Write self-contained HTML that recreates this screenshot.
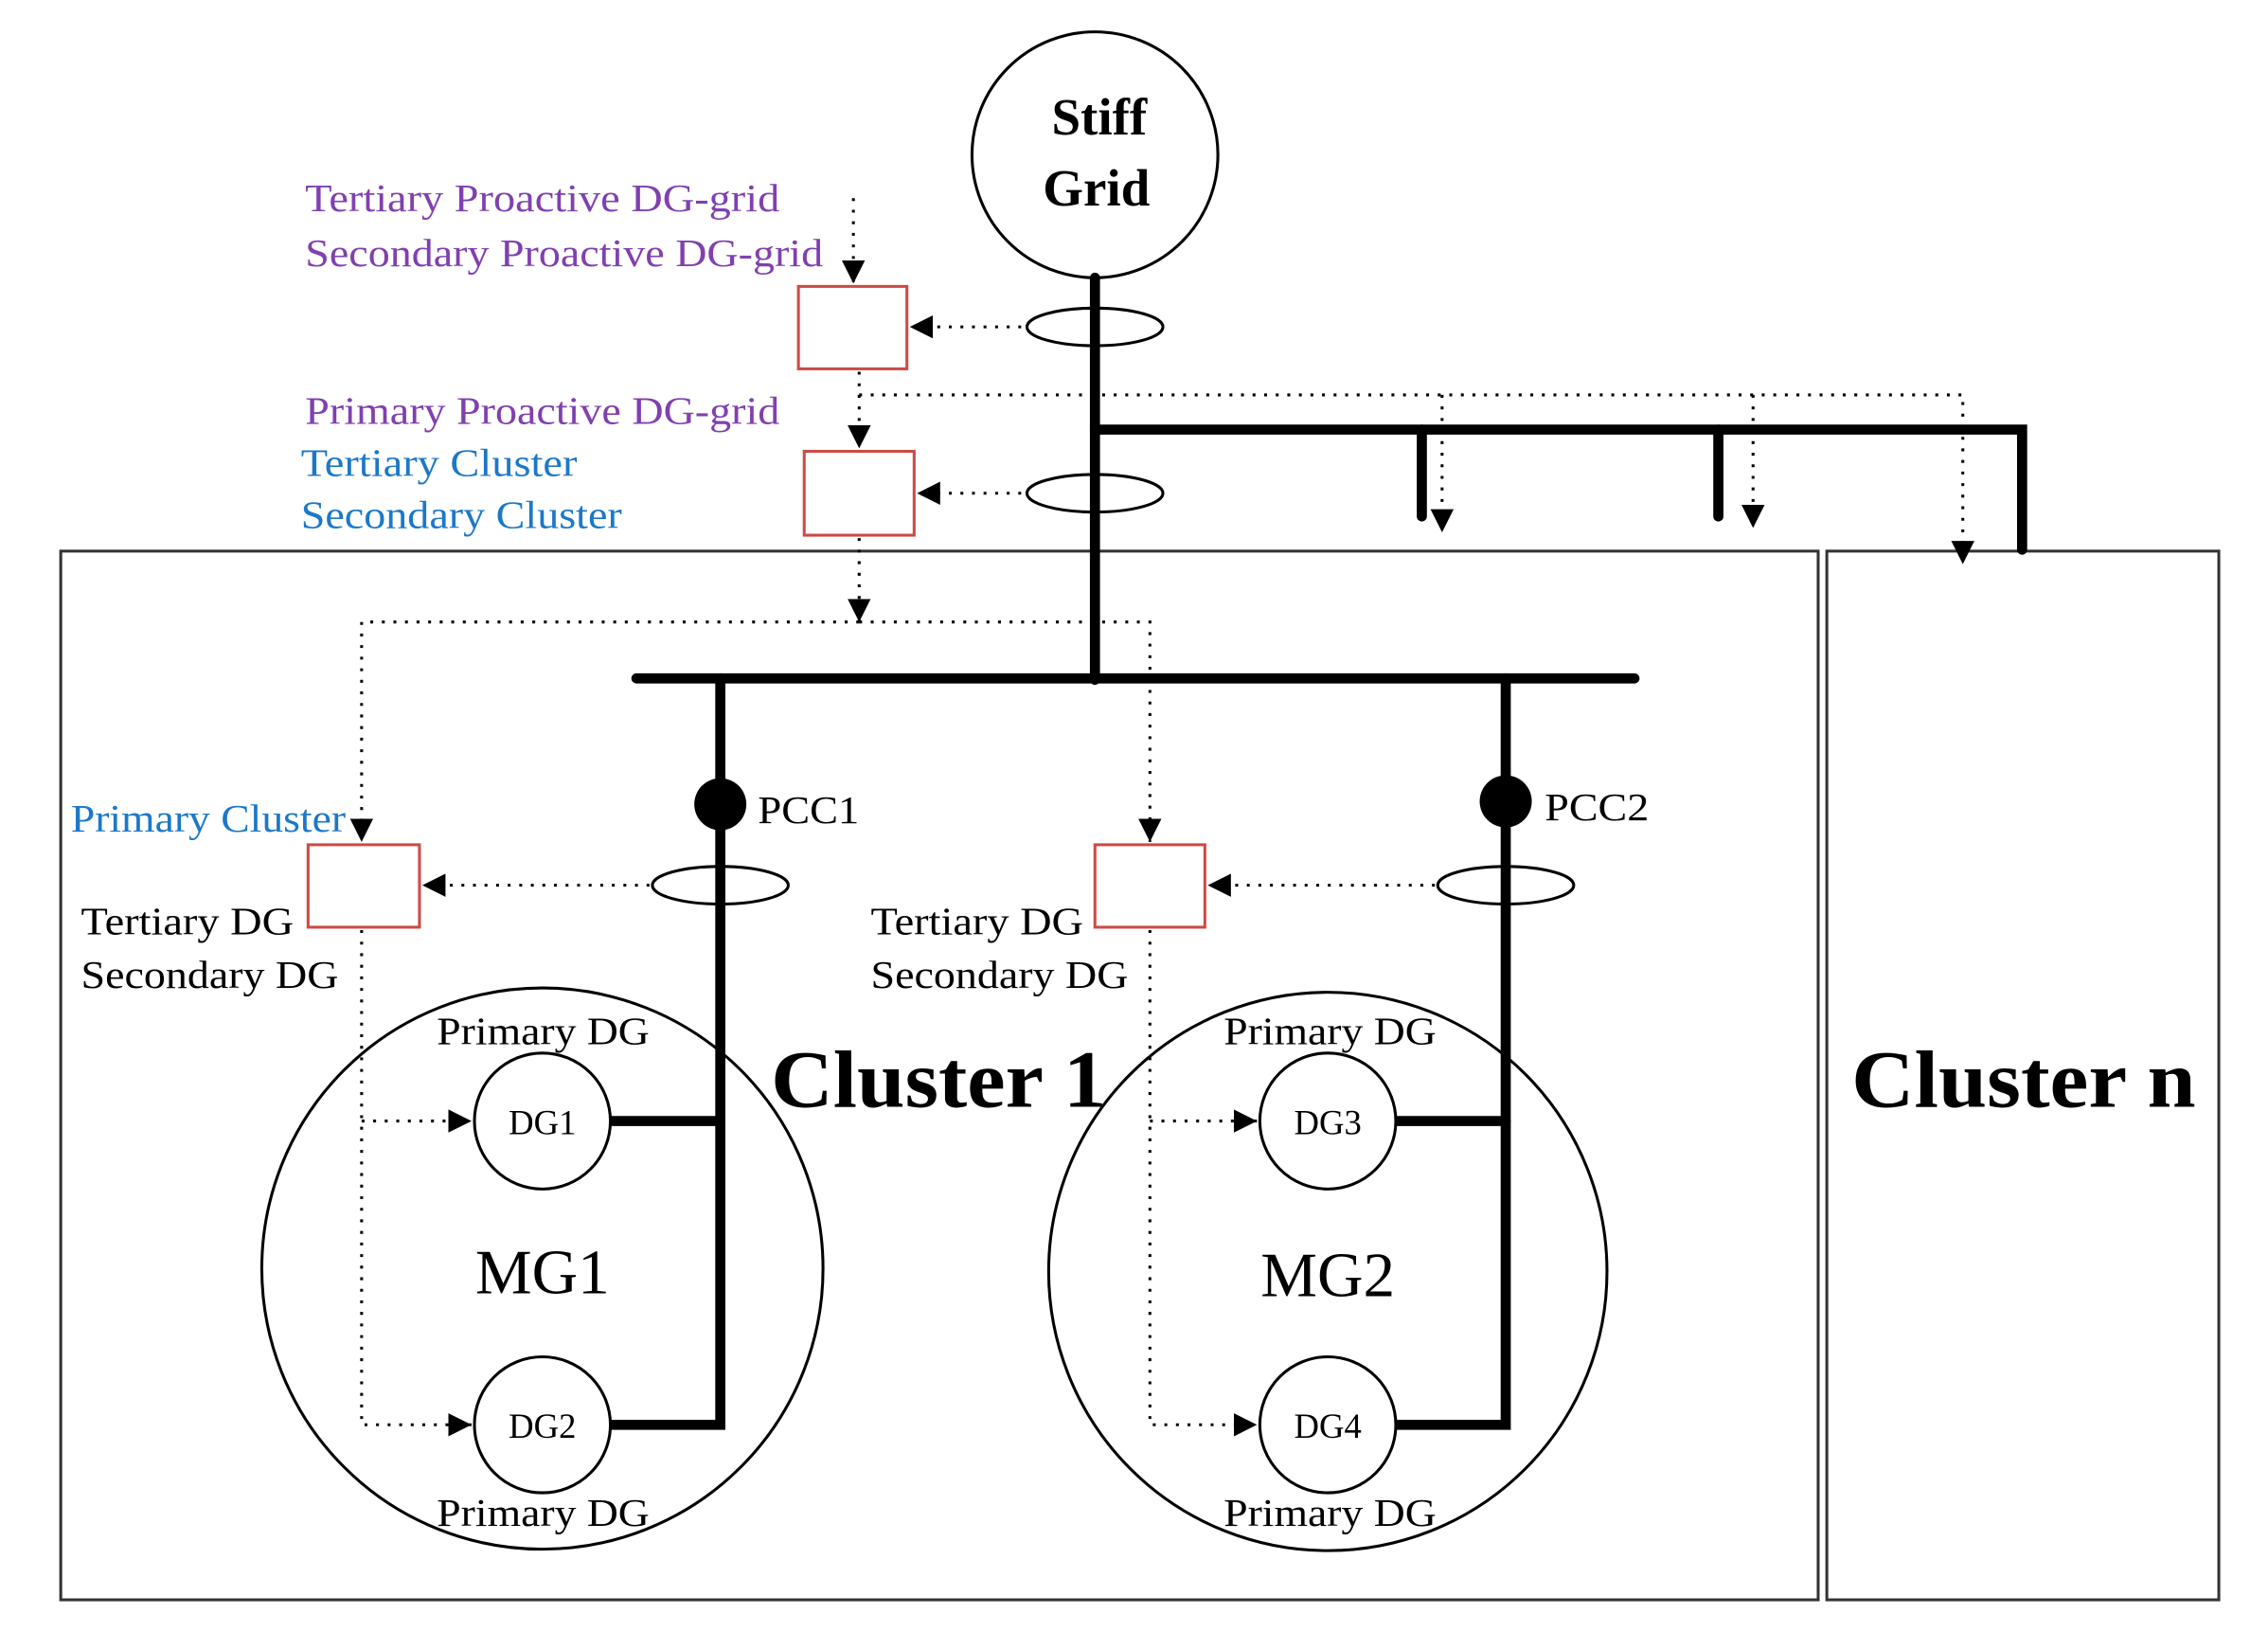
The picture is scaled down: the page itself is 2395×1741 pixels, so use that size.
<!DOCTYPE html>
<html><head><meta charset="utf-8"><style>html,body{margin:0;padding:0;background:#fff}svg{display:block}</style></head>
<body>
<svg width="2395" height="1741" viewBox="0 0 1568 1140" preserveAspectRatio="none" xmlns="http://www.w3.org/2000/svg" font-family="'Liberation Serif', serif">
<defs>
<marker id="a" viewBox="0 0 10 10" refX="10" refY="5" markerWidth="16" markerHeight="16" markerUnits="userSpaceOnUse" orient="auto"><path d="M0,0L10,5L0,10z" fill="#000"/></marker>
</defs>
<rect width="1568" height="1140" fill="#fff"/>
<rect x="42" y="381" width="1215" height="725" fill="none" stroke="#333" stroke-width="2"/>
<rect x="1263" y="381" width="271" height="725" fill="none" stroke="#333" stroke-width="2"/>
<circle cx="757" cy="107" r="85" fill="none" stroke="#000" stroke-width="2"/>
<text x="760" y="93" font-size="36" font-weight="bold" text-anchor="middle">Stiff</text>
<text x="758" y="142" font-size="36" font-weight="bold" text-anchor="middle">Grid</text>
<g stroke="#000" stroke-width="7" fill="none" stroke-linecap="round">
<line x1="757" y1="192" x2="757" y2="470"/>
<polyline points="757,297 1398,297 1398,380"/>
<line x1="983" y1="297" x2="983" y2="357"/>
<line x1="1188" y1="297" x2="1188" y2="357"/>
<line x1="440" y1="469" x2="1130" y2="469"/>
<polyline points="498,469 498,985 422,985"/>
<line x1="422" y1="775" x2="498" y2="775"/>
<polyline points="1041,469 1041,985 965,985"/>
<line x1="965" y1="775" x2="1041" y2="775"/>
</g>
<g fill="none" stroke="#000" stroke-width="2">
<ellipse cx="757" cy="226" rx="47" ry="13"/>
<ellipse cx="757" cy="341" rx="47" ry="13"/>
<ellipse cx="498" cy="612" rx="47" ry="13"/>
<ellipse cx="1041" cy="612" rx="47" ry="13"/>
<circle cx="375" cy="877" r="194"/>
<circle cx="918" cy="879" r="193"/>
<circle cx="375" cy="775" r="47" fill="#fff"/>
<circle cx="375" cy="985" r="47" fill="#fff"/>
<circle cx="918" cy="775" r="47" fill="#fff"/>
<circle cx="918" cy="985" r="47" fill="#fff"/>
</g>
<circle cx="498" cy="556" r="18" fill="#000"/>
<circle cx="1041" cy="554" r="18" fill="#000"/>
<g fill="#fff" stroke="#cc4b45" stroke-width="2">
<rect x="552" y="198" width="75" height="57"/>
<rect x="556" y="312" width="76" height="58"/>
<rect x="213" y="584" width="77" height="57"/>
<rect x="757" y="584" width="76" height="57"/>
</g>
<g fill="none" stroke="#000" stroke-width="2" stroke-dasharray="2,6">
<line x1="590" y1="137" x2="590" y2="196" marker-end="url(#a)"/>
<line x1="706" y1="226" x2="629" y2="226" marker-end="url(#a)"/>
<line x1="706" y1="341" x2="634" y2="341" marker-end="url(#a)"/>
<line x1="594" y1="257" x2="594" y2="310" marker-end="url(#a)"/>
<polyline points="594,273 1357,273 1357,390" marker-end="url(#a)"/>
<line x1="997" y1="273" x2="997" y2="368" marker-end="url(#a)"/>
<line x1="1212" y1="273" x2="1212" y2="365" marker-end="url(#a)"/>
<line x1="594" y1="372" x2="594" y2="430" marker-end="url(#a)"/>
<polyline points="594,430 250,430 250,582" marker-end="url(#a)"/>
<polyline points="594,430 795,430 795,582" marker-end="url(#a)"/>
<line x1="449" y1="612" x2="292" y2="612" marker-end="url(#a)"/>
<line x1="992" y1="612" x2="835" y2="612" marker-end="url(#a)"/>
<polyline points="250,643 250,985 326,985" marker-end="url(#a)"/>
<line x1="250" y1="775" x2="326" y2="775" marker-end="url(#a)"/>
<polyline points="795,643 795,985 869,985" marker-end="url(#a)"/>
<line x1="795" y1="775" x2="869" y2="775" marker-end="url(#a)"/>
</g>
<g font-size="27">
<text x="211" y="146" fill="#8040b0" textLength="328" lengthAdjust="spacingAndGlyphs">Tertiary Proactive DG-grid</text>
<text x="211" y="184" fill="#8040b0" textLength="358" lengthAdjust="spacingAndGlyphs">Secondary Proactive DG-grid</text>
<text x="211" y="293" fill="#8040b0" textLength="328" lengthAdjust="spacingAndGlyphs">Primary Proactive DG-grid</text>
<text x="208" y="329" fill="#1c78c8" textLength="191" lengthAdjust="spacingAndGlyphs">Tertiary Cluster</text>
<text x="208" y="365" fill="#1c78c8" textLength="222" lengthAdjust="spacingAndGlyphs">Secondary Cluster</text>
<text x="49" y="575" fill="#1c78c8" textLength="190" lengthAdjust="spacingAndGlyphs">Primary Cluster</text>
<text x="56" y="646" textLength="147" lengthAdjust="spacingAndGlyphs">Tertiary DG</text>
<text x="56" y="683" textLength="178" lengthAdjust="spacingAndGlyphs">Secondary DG</text>
<text x="602" y="646" textLength="147" lengthAdjust="spacingAndGlyphs">Tertiary DG</text>
<text x="602" y="683" textLength="178" lengthAdjust="spacingAndGlyphs">Secondary DG</text>
<text x="302" y="722" textLength="147" lengthAdjust="spacingAndGlyphs">Primary DG</text>
<text x="302" y="1055" textLength="147" lengthAdjust="spacingAndGlyphs">Primary DG</text>
<text x="846" y="722" textLength="147" lengthAdjust="spacingAndGlyphs">Primary DG</text>
<text x="846" y="1055" textLength="147" lengthAdjust="spacingAndGlyphs">Primary DG</text>
<text x="524" y="569" textLength="70" lengthAdjust="spacingAndGlyphs">PCC1</text>
<text x="1068" y="567" textLength="72" lengthAdjust="spacingAndGlyphs">PCC2</text>
</g>
<g font-size="24" text-anchor="middle">
<text x="375" y="784">DG1</text>
<text x="375" y="994">DG2</text>
<text x="918" y="784">DG3</text>
<text x="918" y="994">DG4</text>
</g>
<text x="375" y="894" font-size="44" text-anchor="middle">MG1</text>
<text x="918" y="896" font-size="44" text-anchor="middle">MG2</text>
<text x="533" y="765" font-size="56" font-weight="bold" textLength="232" lengthAdjust="spacingAndGlyphs">Cluster 1</text>
<text x="1280" y="765" font-size="56" font-weight="bold" textLength="238" lengthAdjust="spacingAndGlyphs">Cluster n</text>
</svg>
</body></html>
